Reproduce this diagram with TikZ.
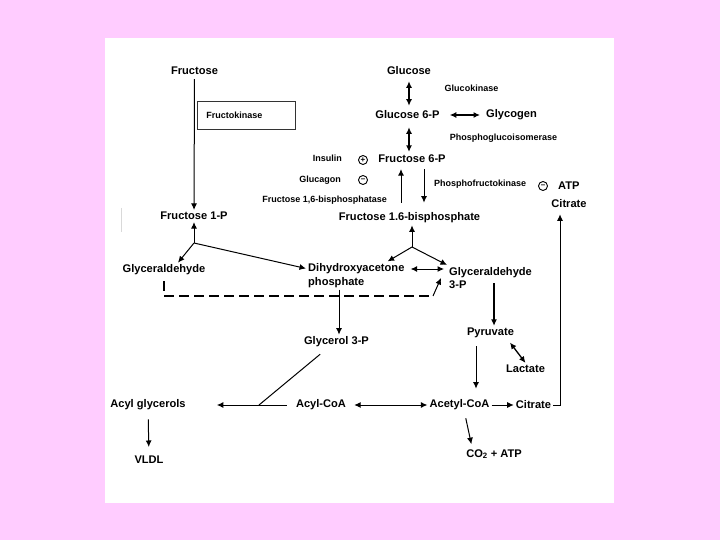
\documentclass[tikz,border=0pt]{standalone}
\usepackage{fontspec}
\setmainfont{Liberation Sans}
\usepackage{xcolor}
\usepackage{tikz}
\usetikzlibrary{arrows.meta,positioning,calc}
\definecolor{slidepink}{RGB}{255,204,255}

\begin{document}
\begin{tikzpicture}[x=1pt,y=-1pt,>={Latex[length=6.5pt,width=6pt]},
  met/.style={font=\fontsize{11.1}{13.5}\selectfont\bfseries,inner sep=2pt,align=left},
  enz/.style={font=\fontsize{9}{10}\selectfont\bfseries,inner sep=1pt},
  sign/.style={draw,circle,line width=0.9pt,inner sep=0pt,minimum size=9pt,font=\fontsize{8}{8}\selectfont\bfseries},
  rxn/.style={->,line width=1pt}]
  \useasboundingbox (0,0) rectangle (720,540);
  \fill[slidepink] (0,0) rectangle (720,540);
  \fill[white] (105,38) rectangle (614,503);
  \draw[gray!30,line width=0.8pt] (121,208) -- (121,232);

  % fructose branch
  \node[met] (fru) at (194.5,71) {Fructose};
  \node[enz,draw=black!80,line width=0.8pt,anchor=north west,minimum width=98pt,minimum height=28pt,
        inner xsep=9pt,text width=80pt,align=left] (fk) at (197,101) {Fructokinase};
  \node[met] (f1p) at (194,216) {Fructose 1-P};

  % glucose to fructose 1,6-bisphosphate
  \node[met] (glc) at (409,71) {Glucose};
  \node[enz] (gk) at (471.5,88) {Glucokinase};
  \node[met] (g6p) at (407.5,115) {Glucose 6-P};
  \node[met] (glyg) at (511.5,115) {Glycogen};
  \node[enz] (pgi) at (503.5,138) {Phosphoglucoisomerase};
  \node[met] (f6p) at (412,159) {Fructose 6-P};
  \node[enz,anchor=east] (ins) at (343,158) {Insulin};
  \node[enz,anchor=east] (gcg) at (342,180) {Glucagon};
  \node[sign] (plus) at (363,160) {+};
  \node[sign] (minus) at (363,180) {–};
  \node[enz,anchor=east] (fbp) at (388,200) {Fructose 1,6-bisphosphatase};
  \node[enz,anchor=west] (pfk) at (433,184) {Phosphofructokinase};
  \node[sign] (minusb) at (543,186) {–};
  \node[met,anchor=west] (atp) at (556,186) {ATP};
  \node[met] (cita) at (569,204) {Citrate};
  \node[met] (f16) at (409.5,218) {Fructose 1.6-bisphosphate};

  % trioses
  \node[met] (gald) at (164,270) {Glyceraldehyde};
  \node[met,anchor=west] (dhap) at (306,275.5) {Dihydroxyacetone\\phosphate};
  \node[met,anchor=west] (g3p) at (447,278) {Glyceraldehyde\\3-P};
  \node[met] (gly3p) at (336.5,342) {Glycerol 3-P};
  \node[met] (pyr) at (490.5,333) {Pyruvate};
  \node[met] (lac) at (525.5,369) {Lactate};

  % bottom row
  \node[met] (aglyc) at (148,405) {Acyl glycerols};
  \node[met] (acyl) at (321,405) {Acyl-CoA};
  \node[met] (acoa) at (459.5,405) {Acetyl-CoA};
  \node[met] (citb) at (533.5,405) {Citrate};
  \node[met] (vldl) at (149,460) {VLDL};
  \node[met] (co2) at (494,454) {CO\textsubscript{2} + ATP};

  \coordinate (fork1) at (194,243);
  \coordinate (fork2) at (412,247);
  \coordinate (dbend) at (433,296);
  \coordinate (jg) at (259,405);

  \draw[rxn,shorten <=2pt] (fru) -- (f1p);
  \draw[rxn] (fork1) -- (f1p);
  \draw[rxn] (fork1) -- ([xshift=14pt]gald.north);
  \draw[rxn] (fork1) -- ([yshift=7pt]dhap.west);
  \draw[<->,line width=1pt,shorten <=4pt,shorten >=3pt] ([yshift=6.5pt]dhap.east) -- ([yshift=9pt]g3p.west);
  \draw[rxn] (fork2) -- (fork2 |- f16.south);
  \draw[rxn] (fork2) -- ([xshift=-19pt]dhap.north east);
  \draw[rxn] (fork2) -- (g3p.north west);
  \draw[line width=1.8pt,dash pattern=on 10pt off 5pt,shorten <=4pt] (gald.south) |- (dbend);
  \draw[rxn] (dbend) -- ([xshift=-6pt]g3p.west);
  \draw[rxn] ([xshift=2.5pt]gly3p.north |- dhap.south) -- ([xshift=2.5pt]gly3p.north);
  \draw[->,line width=1.8pt,shorten <=5pt] ([xshift=3.5pt]pyr.north |- g3p.center) -- ([xshift=3.5pt]pyr.north);
  \draw[<->,line width=1.3pt,shorten <=3pt] ([xshift=-8pt]pyr.south east) -- (lac.north);
  \draw[rxn,shorten <=6pt,shorten >=9pt] ([xshift=-14.5pt]pyr.south) -- ([xshift=16.5pt]acoa.north);
  \draw[<->,line width=1pt,shorten <=6pt] (acyl) -- (acoa);
  \draw[rxn] (acoa) -- (citb);
  \draw[rxn,shorten >=4pt] (citb.east) -| ([xshift=-9pt]cita.south);
  \draw[rxn,shorten <=7pt,shorten >=29pt] (acyl) -- (aglyc);
  \draw[line width=1pt,line cap=round] ([xshift=-16.5pt,yshift=-5pt]gly3p.south) -- (jg);
  \draw[rxn,shorten <=7pt,shorten >=7pt] (aglyc) -- (vldl);
  \draw[rxn,shorten <=6pt,shorten >=3pt] ([xshift=5pt]acoa.south) -- ([xshift=-22pt]co2.north);

  \draw[<->,line width=1.3pt,shorten <=4pt,shorten >=3pt] (glc.south) -- (glc.south |- g6p.north);
  \draw[<->,line width=1.3pt,shorten <=8pt,shorten >=4pt] (g6p.east) -- (glyg.west);
  \draw[<->,line width=1.3pt,shorten <=6pt,shorten >=1pt] (g6p.south -| glc.south) -- (f6p.north -| glc.south);
  \draw[rxn,shorten <=8pt,shorten >=4pt] ([xshift=-8.5pt]f16.north) -- ([xshift=-11pt]f6p.south);
  \draw[rxn,shorten <=4pt,shorten >=8pt] ([xshift=12pt]f6p.south) -- ([xshift=14.5pt]f16.north);
\end{tikzpicture}
\end{document}
